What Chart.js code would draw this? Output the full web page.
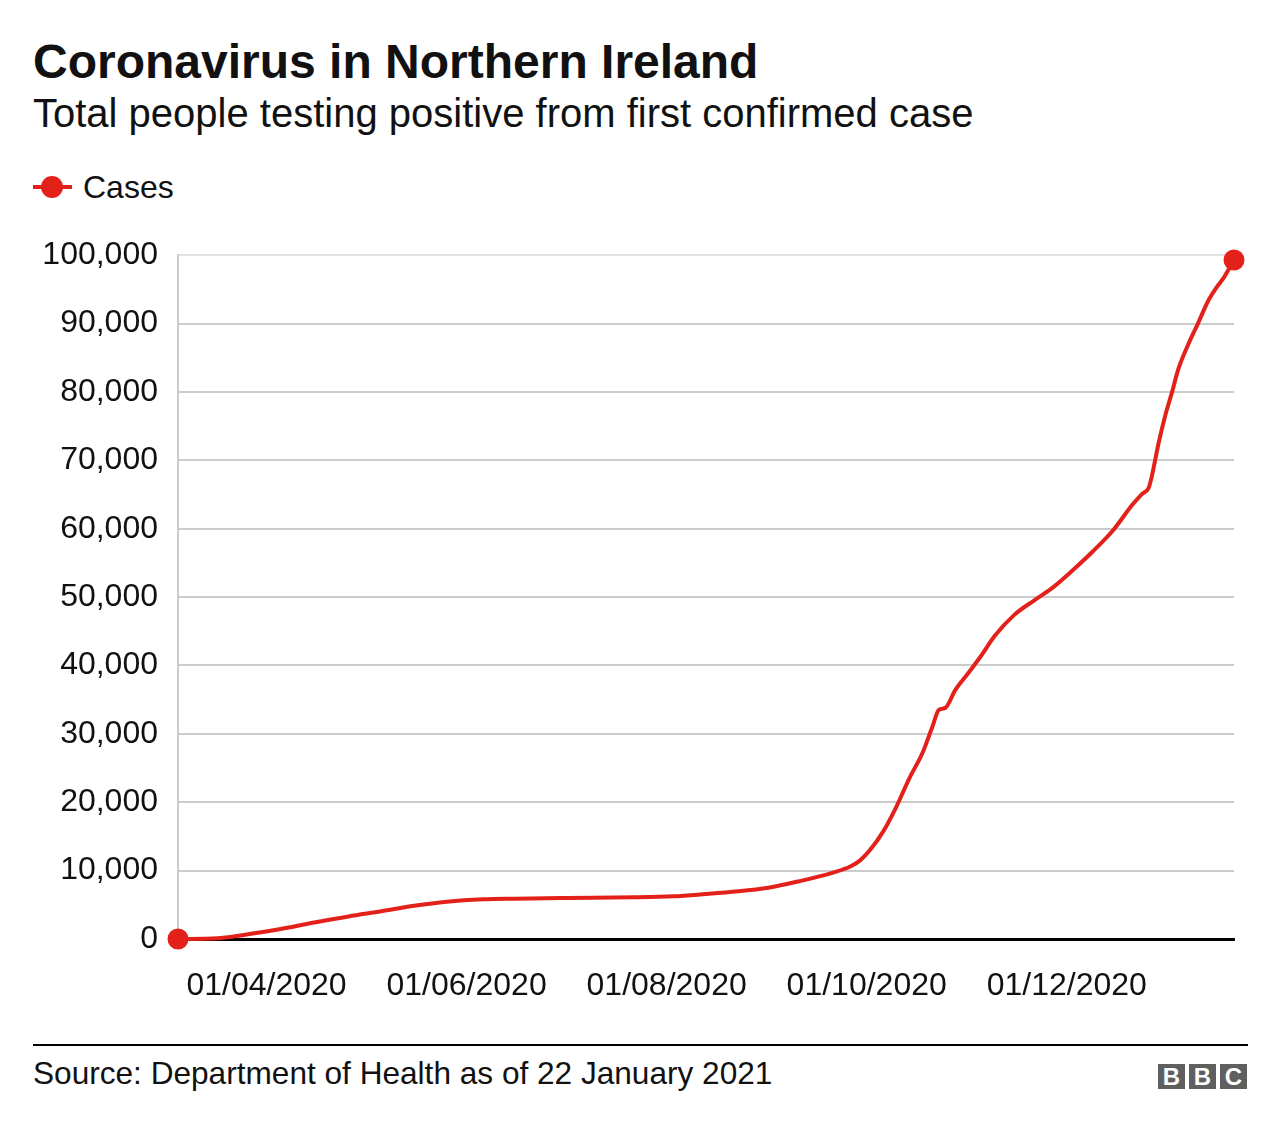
<!DOCTYPE html>
<html>
<head>
<meta charset="utf-8">
<title>Coronavirus in Northern Ireland</title>
<script src="https://cdn.jsdelivr.net/npm/chart.js@4"></script>
<style>
  body { margin: 0; background: #fff; font-family: "Liberation Sans", Arial, Helvetica, sans-serif; color: #111; }
  #page { position: relative; width: 1280px; height: 1132px; overflow: hidden; }
  .txt { position: absolute; left: 33px; white-space: nowrap; }
  #title { top: 38px; font-size: 48px; line-height: 48px; font-weight: bold; }
  #subtitle { top: 93px; font-size: 40px; line-height: 40px; }
  #legend { position: absolute; left: 33px; top: 172px; height: 32px; }
  #legend .line { position: absolute; left: 0; top: 13px; width: 39px; height: 4px; background: #e3211a; }
  #legend .dot { position: absolute; left: 8px; top: 4px; width: 22px; height: 22px; border-radius: 50%; background: #e3211a; }
  #legend .lbl { position: absolute; left: 50px; top: -1px; font-size: 32px; line-height: 32px; }
  #chartBox { position: absolute; left: 0; top: 216px; width: 1280px; height: 804px; }
  #rule { position: absolute; left: 33px; top: 1044px; width: 1215px; height: 2px; background: #000; }
  #source { top: 1057px; font-size: 31.6px; line-height: 32px; }
  #bbc { position: absolute; left: 1158px; top: 1064px; height: 25px; }
  #bbc span { float: left; width: 27px; height: 25px; margin-right: 4px; background: #5f5f5f; color: #fff;
              font-weight: bold; font-size: 24px; line-height: 26px; text-align: center; }
  #bbc span:last-child { margin-right: 0; }
</style>
</head>
<body>
<div id="page">
  <div id="title" class="txt">Coronavirus in Northern Ireland</div>
  <div id="subtitle" class="txt">Total people testing positive from first confirmed case</div>
  <div id="legend"><div class="line"></div><div class="dot"></div><div class="lbl" id="legendLabel"></div></div>
  <div id="chartBox"><canvas id="casesChart"></canvas></div>
  <div id="rule"></div>
  <div id="source" class="txt">Source: Department of Health as of 22 January 2021</div>
  <div id="bbc"><span>B</span><span>B</span><span>C</span></div>
</div>
<script>
const seriesName = "Cases";

const dates = [
    "2020-03-05", "2020-03-17", "2020-03-25", "2020-04-04", "2020-04-16", "2020-04-26",
    "2020-05-06", "2020-05-16", "2020-05-26", "2020-06-06", "2020-06-16", "2020-07-02",
    "2020-07-22", "2020-08-03", "2020-08-11", "2020-08-21", "2020-09-01", "2020-09-10",
    "2020-09-21", "2020-09-26", "2020-09-29", "2020-10-02", "2020-10-06", "2020-10-10",
    "2020-10-14", "2020-10-18", "2020-10-21", "2020-10-23", "2020-10-25", "2020-10-28",
    "2020-11-01", "2020-11-05", "2020-11-09", "2020-11-15", "2020-11-21", "2020-11-27",
    "2020-12-03", "2020-12-09", "2020-12-15", "2020-12-21", "2020-12-24", "2020-12-26",
    "2020-12-27", "2020-12-29", "2020-12-31", "2021-01-02", "2021-01-04", "2021-01-07",
    "2021-01-10", "2021-01-13", "2021-01-16", "2021-01-18", "2021-01-21"
];

const cases = [
    1, 100, 600, 1350, 2450, 3300,
    4050, 4850, 5450, 5800, 5900, 6000,
    6100, 6250, 6500, 6900, 7500, 8400,
    9750, 10600, 11500, 13000, 15700, 19300,
    23500, 27200, 31000, 33500, 33800, 36400,
    38900, 41500, 44300, 47400, 49500, 51500,
    54000, 56700, 59700, 63500, 65100, 66000,
    67800, 72500, 76500, 79800, 83300, 86900,
    90000, 93200, 95500, 96800, 99300
];

const tickDates = ["2020-04-01", "2020-06-01", "2020-08-01", "2020-10-01", "2020-12-01"];

const red = "#e3211a";
const fontFamily = "'Liberation Sans', Arial, Helvetica, sans-serif";

document.getElementById("legendLabel").textContent = seriesName;

function dayNum(iso) {
    const p = iso.split("-").map(Number);
    return Date.UTC(p[0], p[1] - 1, p[2]) / 86400000;
}

function fmtDay(n) {
    const d = new Date(Math.round(n) * 86400000);
    const dd = String(d.getUTCDate()).padStart(2, "0");
    const mm = String(d.getUTCMonth() + 1).padStart(2, "0");
    return dd + "/" + mm + "/" + d.getUTCFullYear();
}

const points = dates.map((d, i) => ({ x: dayNum(d), y: cases[i] }));
const last = points.length - 1;

new Chart(document.getElementById("casesChart"), {
    type: "line",
    data: {
        datasets: [{
            label: seriesName,
            data: points,
            borderColor: red,
            backgroundColor: red,
            borderWidth: 4,
            cubicInterpolationMode: "monotone",
            pointRadius: ctx => (ctx.dataIndex === 0 || ctx.dataIndex === last) ? 10.5 : 0,
            pointBorderWidth: 0,
            pointBackgroundColor: red,
            pointHoverRadius: 0,
            clip: false,
            fill: false
        }]
    },
    options: {
        responsive: true,
        maintainAspectRatio: false,
        animation: false,
        events: [],
        layout: { padding: { left: 33, right: 46, top: 31, bottom: 0 } },
        plugins: {
            legend: { display: false },
            tooltip: { enabled: false }
        },
        scales: {
            x: {
                type: "linear",
                min: dayNum(dates[0]),
                max: dayNum(dates[last]),
                afterBuildTicks: scale => {
                    scale.ticks = tickDates.map(d => ({ value: dayNum(d) }));
                },
                afterFit: scale => { scale.height = 81; },
                grid: { display: false, drawTicks: false },
                border: { display: true, color: "#000", width: 3 },
                ticks: {
                    callback: v => fmtDay(v),
                    autoSkip: false,
                    maxRotation: 0,
                    padding: 28,
                    color: "#111",
                    font: { family: fontFamily, size: 32 }
                }
            },
            y: {
                min: 0,
                max: 100000,
                afterFit: scale => { scale.width = 145; },
                grid: {
                    drawTicks: false,
                    lineWidth: 2,
                    color: ctx => {
                        if (ctx.tick.value === 0) return "rgba(0,0,0,0)";
                        if (ctx.tick.value === 100000) return "#e2e2e2";
                        return "#cccccc";
                    }
                },
                border: { display: true, color: "#cccccc", width: 2 },
                ticks: {
                    stepSize: 10000,
                    padding: 20,
                    color: "#111",
                    font: { family: fontFamily, size: 32 },
                    callback: v => v.toLocaleString("en-GB")
                }
            }
        }
    }
});
</script>
</body>
</html>
